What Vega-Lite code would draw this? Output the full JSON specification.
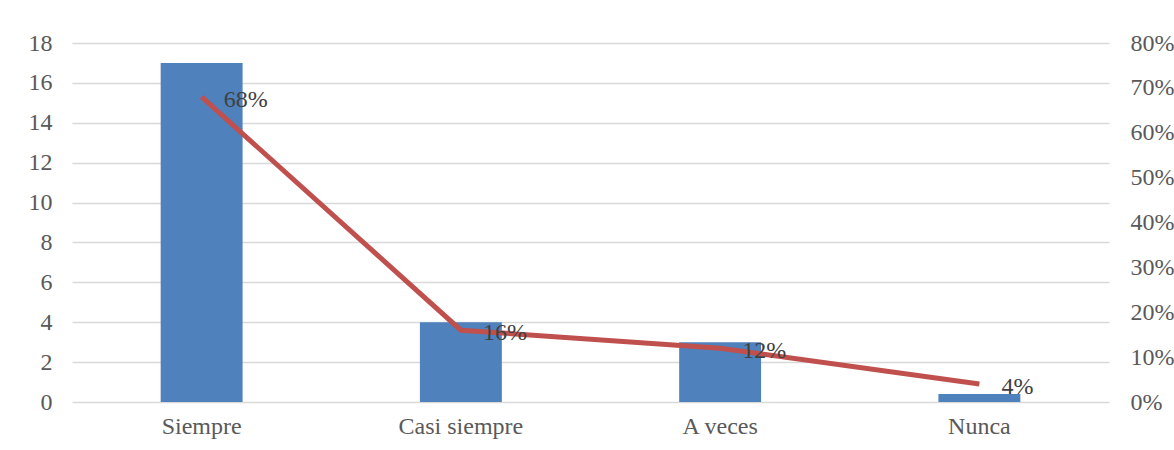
{
  "$schema": "https://vega.github.io/schema/vega-lite/v6.json",
  "width": 1037,
  "height": 359,
  "autosize": "none",
  "padding": {"left": 72, "top": 43, "right": 65, "bottom": 48},
  "background": "white",
  "config": {
    "view": {"stroke": null},
    "font": "Liberation Serif, Times New Roman, serif",
    "axis": {"labelFont": "Liberation Serif, Times New Roman, serif", "labelFontSize": 24, "labelColor": "#595959", "domain": false, "ticks": false, "title": null}
  },
  "data": {
    "values": [
      {"cat": "Siempre", "n": 17, "pct": 0.68, "label": "68%"},
      {"cat": "Casi siempre", "n": 4, "pct": 0.16, "label": "16%"},
      {"cat": "A veces", "n": 3, "pct": 0.12, "label": "12%"},
      {"cat": "Nunca", "n": 0.4, "pct": 0.04, "label": "4%"}
    ]
  },
  "encoding": {
    "x": {
      "field": "cat", "type": "nominal", "sort": null,
      "scale": {"paddingInner": 0.684, "paddingOuter": 0.342},
      "axis": {"labelAngle": 0, "labelPadding": 12, "grid": false}
    }
  },
  "layer": [
    {
      "mark": {"type": "bar", "color": "#4F81BD"},
      "encoding": {
        "y": {
          "field": "n", "type": "quantitative",
          "scale": {"domain": [0, 18], "nice": false},
          "axis": {"values": [0, 2, 4, 6, 8, 10, 12, 14, 16, 18], "grid": true, "gridColor": "#D9D9D9", "gridWidth": 1.5, "labelPadding": 20}
        }
      }
    },
    {
      "encoding": {
        "y": {
          "field": "pct", "type": "quantitative",
          "scale": {"domain": [0, 0.8], "nice": false},
          "axis": {"orient": "right", "format": ".0%", "values": [0, 0.1, 0.2, 0.3, 0.4, 0.5, 0.6, 0.7, 0.8], "grid": false, "labelPadding": 21}
        }
      },
      "layer": [
        {"mark": {"type": "line", "color": "#C0504D", "strokeWidth": 5}},
        {
          "mark": {"type": "text", "align": "left", "baseline": "middle", "dx": 22, "dy": 3, "fontSize": 24, "color": "#404040", "font": "Liberation Serif, Times New Roman, serif"},
          "encoding": {"text": {"field": "label"}}
        }
      ]
    }
  ],
  "resolve": {"scale": {"y": "independent"}}
}
